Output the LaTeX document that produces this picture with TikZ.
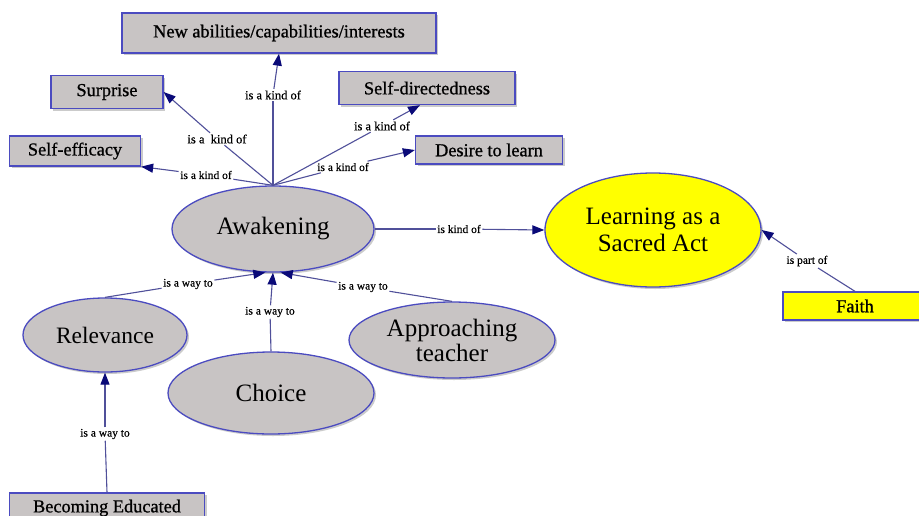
\documentclass[tikz,border=0pt]{standalone}
\usepackage{fontspec}
\setmainfont{Liberation Serif}
\newfontfamily\boxfont[FakeBold=0.9]{Liberation Serif}
\newfontfamily\labfont[FakeBold=0.4]{Liberation Serif}
\usetikzlibrary{arrows.meta,shadows,calc,shapes.geometric}
\definecolor{nodefill}{HTML}{C8C4C4}
\definecolor{nodeborder}{HTML}{4B4BC0}
\definecolor{edgecol}{HTML}{50509A}
\definecolor{tipcol}{HTML}{0A0A78}
\definecolor{yel}{HTML}{FFFF00}
\begin{document}
\begin{tikzpicture}[x=1pt,y=-1pt,
  shad/.style={drop shadow={shadow xshift=2pt,shadow yshift=-2pt,fill=black!40,opacity=0.5}},
  box/.style={rectangle,draw=nodeborder,line width=1.3pt,fill=nodefill,inner sep=0pt,shad,
    font=\boxfont\fontsize{18.3}{20}\selectfont},
  oval/.style={ellipse,draw=nodeborder,line width=1.3pt,fill=nodefill,inner sep=0pt,shad,
    align=center,font=\fontsize{25}{26}\selectfont},
  lab/.style={inner sep=1.5pt,font=\labfont\fontsize{12.5}{13}\selectfont},
  slab/.style={inner sep=1.5pt,font=\labfont\fontsize{11.5}{12}\selectfont},
  edge/.style={draw=edgecol,line width=1.1pt},
  arr/.style={edge,-{Triangle[length=12pt,width=9pt,color=tipcol]}}
]
\useasboundingbox (0,0) rectangle (919,515);
\fill[white] (0,0) rectangle (919,515);

% concept nodes
\node[box,minimum width=314pt,minimum height=40pt] (new) at (279,33) {New abilities/capabilities/interests};
\node[box,minimum width=112pt,minimum height=33pt] (sur) at (107,92) {Surprise};
\node[box,minimum width=131pt,minimum height=30pt] (se) at (75,151) {Self-efficacy};
\node[box,minimum width=176pt,minimum height=33pt] (sd) at (427,88) {Self-directedness};
\node[box,minimum width=147pt,minimum height=28pt] (dl) at (489,150) {Desire to learn};
\node[oval,minimum width=202pt,minimum height=86pt] (aw) at (273,229) {Awakening};
\node[oval,fill=yel,minimum width=216pt,minimum height=114pt,font=\fontsize{25}{27}\selectfont] (learn) at (653,230) {Learning as a\\Sacred Act};
\node[box,fill=yel,minimum width=144pt,minimum height=28pt] (faith) at (855,306) {Faith};
\node[oval,minimum width=164pt,minimum height=74pt,font=\fontsize{23.5}{25}\selectfont] (rel) at (105,335) {Relevance};
\node[oval,minimum width=206pt,minimum height=82pt] (ch) at (271,393) {Choice};
\node[oval,minimum width=206pt,minimum height=76pt,font=\fontsize{25}{25}\selectfont] (ap) at (452,340) {Approaching\\teacher};
\node[box,minimum width=195pt,minimum height=30pt] (be) at (107,508) {Becoming Educated};

% link labels
\node[lab] (lnew) at (273,95) {is a kind of};
\node[lab] (lsur) at (217,139) {is a\ \ kind of};
\node[slab] (lse) at (206,175) {is a kind of};
\node[lab] (lsd) at (382,126) {is a kind of};
\node[slab] (ldl) at (343,167) {is a kind of};
\node[slab] (llearn) at (459,229) {is kind of};
\node[slab] (lfaith) at (807,261) {is part of};
\node[slab] (lrel) at (188,284) {is a way to};
\node[slab] (lch) at (270,312) {is a way to};
\node[slab] (lap) at (363,287) {is a way to};
\node[slab] (lbe) at (105,434) {is a way to};

% connectors
\draw[edge] (aw.north) -- (lnew);  \draw[arr] (lnew) -- (new.south);
\draw[edge] (aw.north) -- (lsur);  \draw[arr] (lsur) -- (sur.east);
\draw[edge] (aw.north) -- (lse);   \draw[arr] (lse) -- (se.south east);
\draw[edge] (aw.north) -- (lsd);   \draw[arr] (lsd) -- ($(sd.south)+(-7,0)$);
\draw[edge] (aw.north) -- (ldl);   \draw[arr] (ldl) -- (dl.west);
\draw[edge] (aw.east) -- (llearn); \draw[arr] (llearn) -- (learn.west);
\draw[edge] (faith.north) -- (lfaith); \draw[arr] (lfaith) -- (learn.east);
\draw[edge] (rel.north) -- (lrel); \draw[arr] (lrel) -- (aw.-100);
\draw[edge] (ch.north) -- (lch);   \draw[arr] (lch) -- (aw.south);
\draw[edge] (ap.north) -- (lap);   \draw[arr] (lap) -- (aw.-80);
\draw[edge] (be.north) -- (lbe);   \draw[arr] (lbe) -- (rel.south);
\end{tikzpicture}
\end{document}
